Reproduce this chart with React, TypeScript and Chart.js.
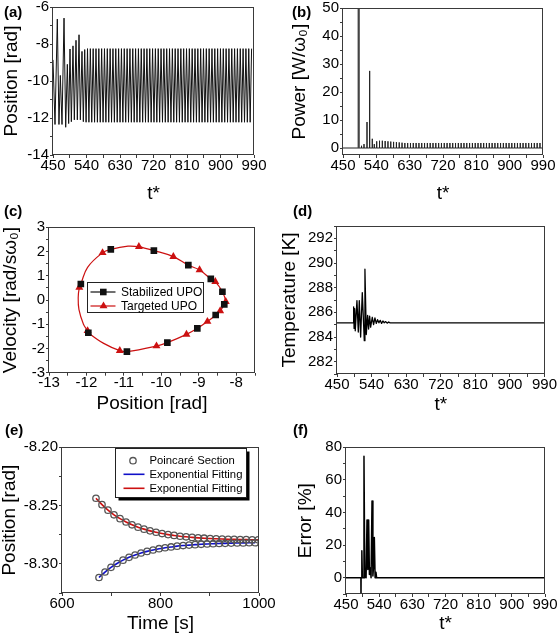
import React, { useEffect, useRef } from "react";
import { Chart, registerables } from "chart.js";
Chart.register(...registerables);

const W = 559;
const H = 637;
const FONT = "'Liberation Sans', Arial, Helvetica, sans-serif";
const FRAME = "#3a3a3a";
const RED = "#cc1111";
const BLUE = "#1010c8";

// ---------- (a) position vs t* : extrema of the oscillation ----------
const aTime = [
  450.0, 455.4, 461.6, 466.0, 469.7, 474.2, 479.6, 484.1, 488.5, 492.1,
  495.7, 499.3, 503.7, 507.3, 511.8, 515.4, 519.9, 523.5, 527.9, 531.5, 535.2,
  538.9, 542.7, 546.5, 550.3, 554.1, 557.9, 561.7, 565.5, 569.3, 573.1,
  576.9, 580.7, 584.5, 588.3, 592.1, 595.9, 599.7, 603.5, 607.3, 611.1,
  614.9, 618.7, 622.5, 626.3, 630.1, 633.9, 637.7, 641.5, 645.3, 649.1,
  652.9, 656.7, 660.5, 664.3, 668.1, 671.9, 675.7, 679.5, 683.3, 687.1,
  690.9, 694.7, 698.5, 702.3, 706.1, 709.9, 713.7, 717.5, 721.3, 725.1,
  728.9, 732.7, 736.5, 740.3, 744.1, 747.9, 751.7, 755.5, 759.3, 763.1,
  766.9, 770.7, 774.5, 778.3, 782.1, 785.9, 789.7, 793.5, 797.3, 801.1,
  804.9, 808.7, 812.5, 816.3, 820.1, 823.9, 827.7, 831.5, 835.3, 839.1,
  842.9, 846.7, 850.5, 854.3, 858.1, 861.9, 865.7, 869.5, 873.3, 877.1,
  880.9, 884.7, 888.5, 892.3, 896.1, 899.9, 903.7, 907.5, 911.3, 915.1,
  918.9, 922.7, 926.5, 930.3, 934.1, 937.9, 941.7, 945.5, 949.3, 953.1,
  956.9, 960.7, 964.5, 968.3, 972.1, 975.9, 979.7, 983.5,
];
const aPos = [
  -8.86, -12.35, -6.65, -12.35, -9.7, -12.35, -6.6, -12.5, -9.1, -12.3,
  -8.27, -12.2, -8.1, -12.1, -7.8, -12.1, -7.5, -12.1, -8.4, -12.2, -8.3,
  -12.23, -8.25, -12.23, -8.25, -12.23, -8.25, -12.23, -8.25, -12.23, -8.25,
  -12.23, -8.25, -12.23, -8.25, -12.23, -8.25, -12.23, -8.25, -12.23, -8.25,
  -12.23, -8.25, -12.23, -8.25, -12.23, -8.25, -12.23, -8.25, -12.23, -8.25,
  -12.23, -8.25, -12.23, -8.25, -12.23, -8.25, -12.23, -8.25, -12.23, -8.25,
  -12.23, -8.25, -12.23, -8.25, -12.23, -8.25, -12.23, -8.25, -12.23, -8.25,
  -12.23, -8.25, -12.23, -8.25, -12.23, -8.25, -12.23, -8.25, -12.23, -8.25,
  -12.23, -8.25, -12.23, -8.25, -12.23, -8.25, -12.23, -8.25, -12.23, -8.25,
  -12.23, -8.25, -12.23, -8.25, -12.23, -8.25, -12.23, -8.25, -12.23, -8.25,
  -12.23, -8.25, -12.23, -8.25, -12.23, -8.25, -12.23, -8.25, -12.23, -8.25,
  -12.23, -8.25, -12.23, -8.25, -12.23, -8.25, -12.23, -8.25, -12.23, -8.25,
  -12.23, -8.25, -12.23, -8.25, -12.23, -8.25, -12.23, -8.25, -12.23, -8.25,
  -12.23, -8.25, -12.23, -8.25, -12.23, -8.25, -12.23, -8.25,
];

// ---------- (b) power pulses ----------
const bBaseT = [450, 990];
const bPulseT = [492.4];
const bPulseH = [60];
const bSpikeT = [
  498.6, 501.0, 506.7, 514.8, 522.0, 529.1, 534.5,
  541.0, 548.6, 556.2, 563.8, 571.4, 579.0, 586.6, 594.2, 601.8, 609.4,
  617.0, 624.6, 632.2, 639.8, 647.4, 655.0, 662.6, 670.2, 677.8, 685.4,
  693.0, 700.6, 708.2, 715.8, 723.4, 731.0, 738.6, 746.2, 753.8, 761.4,
  769.0, 776.6, 784.2, 791.8, 799.4, 807.0, 814.6, 822.2, 829.8, 837.4,
  845.0, 852.6, 860.2, 867.8, 875.4, 883.0, 890.6, 898.2, 905.8, 913.4,
  921.0, 928.6, 936.2, 943.8, 951.4, 959.0, 966.6, 974.2, 981.8,
];
const bSpikeH = [
  0.6, 0.8, 1.4, 9.3, 27.6, 3.3, 1.4,
  2.4, 2.6, 2.6, 2.5, 2.4, 2.3, 2.2, 2.1, 2.0, 1.9,
  1.8, 1.8, 1.8, 1.8, 1.8, 1.8, 1.8, 1.8, 1.8, 1.8,
  1.8, 1.8, 1.8, 1.8, 1.8, 1.8, 1.8, 1.8, 1.8, 1.8,
  1.8, 1.8, 1.8, 1.8, 1.8, 1.8, 1.8, 1.8, 1.8, 1.8,
  1.8, 1.8, 1.8, 1.8, 1.8, 1.8, 1.8, 1.8, 1.8, 1.8,
  1.8, 1.8, 1.8, 1.8, 1.8, 1.8, 1.8, 1.8, 1.8,
];

// ---------- (c) phase portrait ----------
const cLegend = ["Stabilized UPO", "Targeted UPO"];
const cOrbitX = [
  -10.6, -10.2, -9.68, -9.28, -8.98, -8.68, -8.56, -8.37, -8.28, -8.32, -8.43, -8.55,
  -8.77, -9.04, -9.33, -9.84, -10.13, -10.92, -11.11, -11.54, -11.95, -11.97, -12.08,
  -12.2, -12.22, -12.19, -12.15, -11.97, -11.57, -11.35, -10.89, -10.6,
];
const cOrbitY = [
  2.2, 2.04, 1.79, 1.44, 1.24, 0.87, 0.76, 0.34, -0.07, -0.18, -0.45, -0.62,
  -0.89, -1.17, -1.42, -1.76, -1.9, -2.13, -2.09, -1.79, -1.35, -1.27, -1.0,
  -0.4, 0.1, 0.52, 0.66, 1.35, 1.95, 2.09, 2.22, 2.2,
];
const cTriX = [-10.6, -9.68, -8.98, -8.56, -8.28, -8.43, -8.77, -9.33, -10.13, -11.11, -11.97, -12.19, -11.57];
const cTriY = [2.2, 1.79, 1.24, 0.76, -0.07, -0.45, -0.89, -1.42, -1.9, -2.09, -1.27, 0.52, 1.95];
const cSqX = [-11.35, -10.2, -9.28, -8.68, -8.37, -8.32, -8.55, -9.04, -9.84, -10.92, -11.95, -12.15];
const cSqY = [2.09, 2.04, 1.44, 0.87, 0.34, -0.18, -0.62, -1.17, -1.76, -2.13, -1.35, 0.66];

// ---------- (d) temperature ----------
const dTime = [
  450, 492, 493.3, 494.5, 495.9, 497.5, 501.9, 505.4, 508, 511.5, 515.8, 521, 522.7,
  526.2, 529.7, 532.2, 534.9, 537.5, 541.8, 545.2, 548.7, 552.2, 555.6, 559.1, 562.5,
  566, 569.5, 573, 576.8, 580.6, 584.4, 588.2, 990,
];
const dTemp = [
  285.15, 285.15, 286.45, 284.7, 286.3, 284.5, 286.95, 284.4, 286.95, 284.0, 287.6, 283.7, 289.5,
  284.2, 285.75, 284.65, 285.7, 284.8, 285.6, 285.0, 285.55, 285.1, 285.4, 285.15, 285.35,
  285.1, 285.3, 285.15, 285.25, 285.12, 285.22, 285.15, 285.15,
];

// ---------- (e) Poincaré section and fits ----------
const eLegend = ["Poincaré Section", "Exponential Fitting", "Exponential Fitting"];
const eUpT = [
  669.0, 681.2, 693.4, 705.6, 717.8, 730.0, 742.2, 754.4, 766.6, 778.8, 791.0, 803.2, 815.4, 827.6,
  839.8, 852.0, 864.2, 876.4, 888.6, 900.8, 913.0, 925.2, 937.4, 949.6, 961.8, 974.0, 986.2, 998.4,
];
const eUpV = [
  -8.2437, -8.2492, -8.2539, -8.2579, -8.2612, -8.2641, -8.2665, -8.2685, -8.2702, -8.2717,
  -8.2729, -8.274, -8.2749, -8.2756, -8.2763, -8.2768, -8.2773, -8.2777, -8.278, -8.2783,
  -8.2785, -8.2787, -8.2789, -8.279, -8.2791, -8.2792, -8.2793, -8.2794,
];
const eLoT = [
  675.1, 687.3, 699.5, 711.7, 723.9, 736.1, 748.3, 760.5, 772.7, 784.9, 797.1, 809.3, 821.5, 833.7,
  845.9, 858.1, 870.3, 882.5, 894.7, 906.9, 919.1, 931.3, 943.5, 955.7, 967.9, 980.1, 992.3,
];
const eLoV = [
  -8.3117, -8.307, -8.303, -8.2997, -8.2968, -8.2944, -8.2924, -8.2907, -8.2893, -8.2881,
  -8.287, -8.2862, -8.2855, -8.2848, -8.2843, -8.2839, -8.2835, -8.2832, -8.2829, -8.2827,
  -8.2825, -8.2824, -8.2822, -8.2821, -8.282, -8.2819, -8.2819,
];

// ---------- (f) error ----------
const fTime = [
  450, 490.4, 490.7, 491.0, 492.6, 493.4, 494.4, 496.5, 498.8, 501, 503, 504.5, 507,
  509.2, 511.5, 513.5, 516, 518, 520.6, 523, 524.5, 526.9, 529, 531.4, 533, 990,
];
const fErr = [
  0, 0, -15, 0, 0, 16.5, 0, 0, 74.5, 0, 4, 0, 35.4,
  5, 35.4, 2, 6, 0, 47, 1, 6, 24.6, 0, 3.3, 0, 0,
];

// ---------- tick labels ----------
const tStarTicks = [450, 540, 630, 720, 810, 900, 990];
const aPosTicks = [-14, -12, -10, -8, -6];
const bPowTicks = [0, 10, 20, 30, 40, 50];
const cPosTicks = [-13, -12, -11, -10, -9, -8];
const cVelTicks = [-3, -2, -1, 0, 1, 2, 3];
const dTempTicks = [282, 284, 286, 288, 290, 292];
const eTimeTicks = [600, 800, 1000];
const ePosTicks = [-8.3, -8.25, -8.2];
const fErrTicks = [0, 20, 40, 60, 80];

const xy = (xs: number[], ys: number[]) => xs.map((x, i) => ({ x, y: ys[i] }));

function spikes(base: number[], ts: number[], hs: number[]) {
  const pts: { x: number; y: number }[] = [{ x: base[0], y: 0 }];
  ts.forEach((t, i) => {
    pts.push({ x: t, y: 0 }, { x: t, y: hs[i] }, { x: t, y: 0 });
  });
  pts.push({ x: base[1], y: 0 });
  return pts;
}

function tickValues(min: number, max: number, step: number) {
  const out: number[] = [];
  const k0 = Math.ceil(min / step - 1e-9);
  for (let k = k0; k * step <= max + 1e-9; k++) out.push(Math.round(k * step * 1e6) / 1e6);
  return out;
}

type AxisSpec = {
  min: number;
  max: number;
  labels: number[];
  minorStep: number;
  title: string;
  fmt?: (v: number) => string;
};

type PanelSpec = {
  key: string;
  plot: { l: number; t: number; r: number; b: number };
  yTitleX: number;
  xTitleY: number;
  x: AxisSpec;
  y: AxisSpec;
  datasets: any[];
  legend?: (ctx: CanvasRenderingContext2D, a: any) => void;
};

function drawTri(ctx: CanvasRenderingContext2D, x: number, y: number, r: number) {
  ctx.beginPath();
  ctx.moveTo(x, y - r);
  ctx.lineTo(x + 0.866 * r, y + 0.5 * r);
  ctx.lineTo(x - 0.866 * r, y + 0.5 * r);
  ctx.closePath();
  ctx.fill();
}

const legendC = (ctx: CanvasRenderingContext2D, a: any) => {
  const x0 = Math.round(a.left + 38) + 0.5;
  const y0 = Math.round(a.top + 55) + 0.5;
  const w = 116;
  const h = 30;
  ctx.fillStyle = "#fff";
  ctx.fillRect(x0, y0, w, h);
  ctx.strokeStyle = "#222";
  ctx.lineWidth = 1;
  ctx.strokeRect(x0, y0, w, h);
  const rows = [
    { label: cLegend[0], color: "#111", y: y0 + 9.5, m: "sq" },
    { label: cLegend[1], color: RED, y: y0 + 23.5, m: "tri" },
  ];
  ctx.font = `12px ${FONT}`;
  ctx.textBaseline = "middle";
  ctx.textAlign = "left";
  rows.forEach((r) => {
    ctx.strokeStyle = r.color;
    ctx.lineWidth = 1.2;
    ctx.beginPath();
    ctx.moveTo(x0 + 3, r.y);
    ctx.lineTo(x0 + 28, r.y);
    ctx.stroke();
    ctx.fillStyle = r.color;
    if (r.m === "sq") ctx.fillRect(x0 + 12.5, r.y - 3.3, 6.6, 6.6);
    else drawTri(ctx, x0 + 16, r.y, 4.6);
    ctx.fillStyle = "#000";
    ctx.fillText(r.label, x0 + 33.5, r.y + 0.5);
  });
};

const legendE = (ctx: CanvasRenderingContext2D, a: any) => {
  const x0 = Math.round(a.left + 53) + 0.5;
  const y0 = Math.round(a.top + 1) + 0.5;
  const w = 131;
  const h = 49;
  ctx.fillStyle = "#000";
  ctx.fillRect(x0 + 3, y0 + 3, w, h);
  ctx.fillStyle = "#fff";
  ctx.fillRect(x0, y0, w, h);
  ctx.strokeStyle = "#222";
  ctx.lineWidth = 1;
  ctx.strokeRect(x0, y0, w, h);
  ctx.font = `11.3px ${FONT}`;
  ctx.textBaseline = "middle";
  ctx.textAlign = "left";
  const ys = [y0 + 12.2, y0 + 25.8, y0 + 39.8];
  // circle
  ctx.strokeStyle = "#555";
  ctx.lineWidth = 1.3;
  ctx.beginPath();
  ctx.arc(x0 + 17.5, ys[0], 3.2, 0, Math.PI * 2);
  ctx.stroke();
  [BLUE, RED].forEach((c, i) => {
    ctx.strokeStyle = c;
    ctx.lineWidth = 1.6;
    ctx.beginPath();
    ctx.moveTo(x0 + 8, ys[i + 1]);
    ctx.lineTo(x0 + 29, ys[i + 1]);
    ctx.stroke();
  });
  ctx.fillStyle = "#000";
  eLegend.forEach((t, i) => ctx.fillText(t, x0 + 34, ys[i] + 0.5));
};

const PANELS: PanelSpec[] = [
  {
    key: "a",
    plot: { l: 53, t: 7, r: 254, b: 155 },
    yTitleX: 11.5,
    xTitleY: 193.4,
    x: { min: 450, max: 990, labels: tStarTicks, minorStep: 45, title: "t*" },
    y: { min: -14, max: -6, labels: aPosTicks, minorStep: 1, title: "Position [rad]" },
    datasets: [
      { label: "Position", data: xy(aTime, aPos), borderColor: "#111", borderWidth: 1, pointRadius: 0, tension: 0 },
    ],
  },
  {
    key: "b",
    plot: { l: 343, t: 8.3, r: 543, b: 155 },
    yTitleX: 300,
    xTitleY: 193.4,
    x: { min: 450, max: 990, labels: tStarTicks, minorStep: 45, title: "t*" },
    y: { min: -2.5, max: 50, labels: bPowTicks, minorStep: 5, title: "Power [W/ω\u2080]" },
    datasets: [
      { label: "Pulse", data: xy([bPulseT[0], bPulseT[0]], [0, bPulseH[0]]), borderColor: "#444", borderWidth: 2.2, pointRadius: 0 },
      { label: "Power", data: spikes(bBaseT, bSpikeT, bSpikeH), borderColor: "#222", borderWidth: 1, pointRadius: 0 },
    ],
  },
  {
    key: "c",
    plot: { l: 49, t: 227.3, r: 255, b: 372.7 },
    yTitleX: 10.7,
    xTitleY: 403.5,
    x: { min: -13, max: -7.5, labels: cPosTicks, minorStep: 0.5, title: "Position [rad]" },
    y: { min: -3, max: 3, labels: cVelTicks, minorStep: 0.5, title: "Velocity [rad/sω\u2080]" },
    datasets: [
      { label: cLegend[0], data: xy(cSqX, cSqY), showLine: false, pointStyle: "rect", pointRadius: 4.7, backgroundColor: "#111", borderColor: "#111", borderWidth: 0 },
      { label: cLegend[1], data: xy(cTriX, cTriY), showLine: false, pointStyle: "triangle", pointRadius: 4.6, backgroundColor: RED, borderColor: RED, borderWidth: 0 },
      { label: "orbit", data: xy(cOrbitX, cOrbitY), borderColor: RED, borderWidth: 1.2, pointRadius: 0, tension: 0.4 },
    ],
    legend: legendC,
  },
  {
    key: "d",
    plot: { l: 337, t: 226, r: 544.5, b: 374 },
    yTitleX: 289.4,
    xTitleY: 405,
    x: { min: 450, max: 990, labels: tStarTicks, minorStep: 45, title: "t*" },
    y: { min: 281, max: 293, labels: dTempTicks, minorStep: 1, title: "Temperature [K]" },
    datasets: [
      { label: "Temperature", data: xy(dTime, dTemp), borderColor: "#000", borderWidth: 1.3, pointRadius: 0 },
    ],
  },
  {
    key: "e",
    plot: { l: 62, t: 447.3, r: 259, b: 593 },
    yTitleX: 9.4,
    xTitleY: 624,
    x: { min: 600, max: 1000, labels: eTimeTicks, minorStep: 100, title: "Time [s]" },
    y: { min: -8.325, max: -8.2, labels: ePosTicks, minorStep: 0.025, title: "Position [rad]", fmt: (v) => v.toFixed(2) },
    datasets: [
      { label: eLegend[0], data: xy(eUpT, eUpV), showLine: false, pointStyle: "circle", pointRadius: 3.2, backgroundColor: "rgba(0,0,0,0)", borderColor: "#555", borderWidth: 1.3 },
      { label: eLegend[0] + " 2", data: xy(eLoT, eLoV), showLine: false, pointStyle: "circle", pointRadius: 3.2, backgroundColor: "rgba(0,0,0,0)", borderColor: "#555", borderWidth: 1.3 },
      { label: eLegend[2], data: xy(eUpT, eUpV), borderColor: RED, borderWidth: 1.6, pointRadius: 0, cubicInterpolationMode: "monotone" },
      { label: eLegend[1], data: xy(eLoT, eLoV), borderColor: BLUE, borderWidth: 1.6, pointRadius: 0, cubicInterpolationMode: "monotone" },
    ],
    legend: legendE,
  },
  {
    key: "f",
    plot: { l: 346, t: 447.3, r: 545, b: 594 },
    yTitleX: 306,
    xTitleY: 624,
    x: { min: 450, max: 990, labels: tStarTicks, minorStep: 45, title: "t*" },
    y: { min: -10, max: 80, labels: fErrTicks, minorStep: 10, title: "Error [%]" },
    datasets: [
      { label: "Error", data: xy(fTime, fErr), borderColor: "#000", borderWidth: 1.5, pointRadius: 0 },
    ],
  },
];

const PANEL_LABELS = [
  { text: "(a)", x: 4, y: 12.5 },
  { text: "(b)", x: 292, y: 12.5 },
  { text: "(c)", x: 4, y: 212 },
  { text: "(d)", x: 293, y: 212 },
  { text: "(e)", x: 5, y: 431 },
  { text: "(f)", x: 293, y: 431 },
];

function buildConfig(p: PanelSpec): any {
  const padLeft = p.yTitleX - 9.5;
  const yW = p.plot.l - padLeft;
  const xH = p.xTitleY + 9.5 - p.plot.b;
  const padBottom = H - p.plot.b - xH;
  const mk = (a: AxisSpec, isX: boolean) => {
    const all = tickValues(a.min, a.max, a.minorStep);
    const isLabel = (v: number) => a.labels.some((m) => Math.abs(m - v) < 1e-6);
    return {
      type: "linear",
      position: isX ? "bottom" : "left",
      min: a.min,
      max: a.max,
      offset: false,
      grid: { display: true, drawOnChartArea: false, drawTicks: true, tickLength: 3, color: FRAME, lineWidth: 1 },
      border: { display: false },
      ticks: {
        autoSkip: false,
        maxRotation: 0,
        minRotation: 0,
        padding: isX ? 0 : 1,
        color: "#000",
        font: { family: FONT, size: 15, lineHeight: 1 },
        callback: (v: any) => {
          const n = Number(v);
          return isLabel(n) ? (a.fmt ? a.fmt(n) : String(n)) : "";
        },
      },
      title: { display: true, text: a.title, color: "#000", font: { family: FONT, size: 19, lineHeight: 1 }, padding: 0 },
      afterBuildTicks: (s: any) => {
        s.ticks = all.map((v) => ({ value: v }));
      },
      afterFit: (s: any) => {
        if (isX) s.height = xH;
        else s.width = yW;
        s.paddingTop = 0;
        s.paddingBottom = 0;
        s.paddingLeft = 0;
        s.paddingRight = 0;
      },
    };
  };
  const framePlugin = {
    id: "frame_" + p.key,
    afterDatasetsDraw(chart: any) {
      const { ctx, chartArea: a } = chart;
      ctx.save();
      ctx.strokeStyle = FRAME;
      ctx.lineWidth = 1;
      const l = Math.round(a.left) - 0.5;
      const t = Math.round(a.top) + 0.5;
      const r = Math.round(a.right) - 0.5;
      const b = Math.round(a.bottom) - 0.5;
      ctx.strokeRect(l, t, r - l, b - t);
      if (p.legend) p.legend(ctx, a);
      ctx.restore();
    },
  };
  return {
    type: "line",
    data: { datasets: p.datasets },
    options: {
      animation: false,
      responsive: false,
      events: [],
      parsing: true,
      layout: { padding: { left: padLeft, top: p.plot.t, right: W - p.plot.r, bottom: padBottom } },
      plugins: { legend: { display: false }, tooltip: { enabled: false }, title: { display: false } },
      elements: { point: { radius: 0 }, line: { borderJoinStyle: "round" } },
      scales: { x: mk(p.x, true), y: mk(p.y, false) },
    },
    plugins: [framePlugin],
  };
}

function Panel({ spec }: { spec: PanelSpec }) {
  const ref = useRef<HTMLCanvasElement>(null);
  useEffect(() => {
    const chart = new Chart(ref.current as HTMLCanvasElement, buildConfig(spec));
    return () => chart.destroy();
  }, [spec]);
  return (
    <canvas
      ref={ref}
      width={W}
      height={H}
      style={{ position: "absolute", left: 0, top: 0, width: W, height: H }}
    />
  );
}

export default function App() {
  return (
    <div style={{ position: "absolute", left: 0, top: 0, width: W, height: H, background: "#fff", overflow: "hidden" }}>
      {PANELS.map((p) => (
        <Panel key={p.key} spec={p} />
      ))}
      {PANEL_LABELS.map((l) => (
        <div
          key={l.text}
          style={{
            position: "absolute",
            left: l.x,
            top: l.y - 8.8,
            font: `bold 15px ${FONT}`,
            lineHeight: "15px",
            color: "#000",
            whiteSpace: "nowrap",
          }}
        >
          {l.text}
        </div>
      ))}
    </div>
  );
}
